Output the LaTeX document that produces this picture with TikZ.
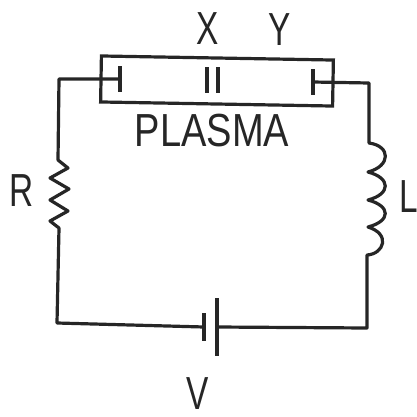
\documentclass[tikz,border=0pt]{standalone}
\usepackage{fontspec}
\setmainfont{Liberation Sans}

\begin{document}
\begin{tikzpicture}[x=0.25mm,y=-0.25mm]

  %Styles for picture
  \tikzset
  {
  wire/.style={line width=0.8mm, line join=round, black!85},
  tube/.style={rectangle, draw=black!85, line width=0.8mm, inner sep=0pt, minimum width=58mm, minimum height=11.5mm, rotate=-1},
  plate/.style={rectangle, inner sep=0pt, outer sep=0pt, minimum width=0.85mm, fill=black!85},
  label/.style={inner sep=0pt, xscale=0.72, font=\fontsize{33}{33}\selectfont, text=black!85},
  widelabel/.style={inner sep=0pt, xscale=0.82, font=\fontsize{33}{33}\selectfont, text=black!85},
  }

  \useasboundingbox (0,0) rectangle (417,417);

  %Nodes
  \node[tube] (t1) at (217,81) {};
  \node[plate, minimum height=6.5mm] (p1) at (120,79) {};
  \node[plate, minimum height=6.7mm] (p2) at (207,80) {};
  \node[plate, minimum height=6.7mm] (p3) at (218,80) {};
  \node[plate, minimum height=6.5mm] (p4) at (313,82) {};
  \node[plate, minimum height=6.8mm] (b1) at (204,327) {};
  \node[plate, minimum height=14.5mm, minimum width=1.1mm] (b2) at (217,327) {};
  \node[label] (x1) at (208,29) {X};
  \node[label] (y1) at (280,30) {Y};
  \node[widelabel] (m1) at (212,131) {PLASMA};
  \node[label] (r1) at (22,191) {R};
  \node[label] (l1) at (409,197) {L};
  \node[label] (v1) at (198,394) {V};

  %Corners
  \coordinate (c1) at (59,77);
  \coordinate (c2) at (57,323);
  \coordinate (c3) at (367,328);
  \coordinate (c4) at (369,83);
  \coordinate (s1) at (58,160);
  \coordinate (s2) at (59,228);
  \coordinate (s3) at (369,143);
  \coordinate (s4) at (367,255);

  %Edges
  \draw[wire] (p1.center) -- (p1.center -| c1) -- (s1)
    -- (68,168) -- (50,178) -- (69,189) -- (50,200) -- (68,211) -- (50,221) -- (s2)
    -- (c2) -- (b1.center);
  \draw[wire] (b2.center) -- (c3) -- (s4)
    .. controls (384,254) and (391,234) .. (368,227)
    .. controls (391,221) and (391,206) .. (368,200)
    .. controls (391,194) and (391,178) .. (368,172)
    .. controls (391,166) and (391,146) .. (s3)
    -- (c4) -- (p4.center);

\end{tikzpicture}
\end{document}
